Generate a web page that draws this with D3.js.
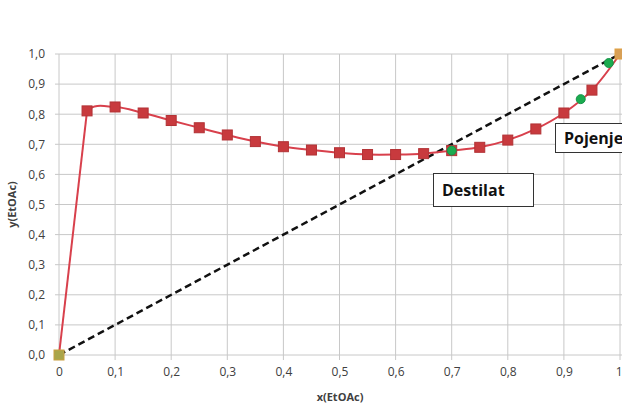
<!DOCTYPE html>
<html>
<head>
<meta charset="utf-8">
<script src="https://cdn.jsdelivr.net/npm/d3@7"></script>
<style>
  html, body { margin: 0; padding: 0; background: #fff; }
  svg text { font-family: "Open Sans", "Liberation Sans", sans-serif; }
</style>
</head>
<body>
<svg id="chart" width="622" height="405"></svg>
<script>
// Equilibrium curve (EtOAc), vapour vs liquid fraction
const eqX = [0, 0.05, 0.1, 0.15, 0.2, 0.25, 0.3, 0.35, 0.4, 0.45, 0.5, 0.55, 0.6, 0.65, 0.7, 0.75, 0.8, 0.85, 0.9, 0.95, 1.0];
const eqY = [0, 0.811, 0.824, 0.804, 0.779, 0.755, 0.731, 0.709, 0.692, 0.681, 0.672, 0.666, 0.666, 0.669, 0.679, 0.690, 0.714, 0.751, 0.804, 0.880, 1.0];

// Operating points (distillate / feed)
const ptX = [0.7, 0.93, 0.98];
const ptY = [0.679, 0.85, 0.97];

// End points of the diagonal
const endX = [0, 1];
const endY = [0, 1];

const xTicks = [0, 0.1, 0.2, 0.3, 0.4, 0.5, 0.6, 0.7, 0.8, 0.9, 1];
const yTicks = [0, 0.1, 0.2, 0.3, 0.4, 0.5, 0.6, 0.7, 0.8, 0.9, 1];

const labels = ["Destilat", "Pojenje"];

const W = 622;
const svg = d3.select("#chart");
const x = d3.scaleLinear().domain([0, 1]).range([59, 620]);
const y = d3.scaleLinear().domain([0, 1]).range([355, 54]);

const fmt = v => v === 0 || v === 1 ? d3.format("d")(v) : d3.format(".1f")(v).replace(".", ",");
const fmtY = v => d3.format(".1f")(v).replace(".", ",");

// gridlines
const grid = svg.append("g");
grid.selectAll("line.v").data(xTicks).join("line")
  .attr("x1", d => x(d)).attr("x2", d => x(d))
  .attr("y1", y(1)).attr("y2", y(0) + 5)
  .attr("stroke", "#c8c8c8").attr("stroke-width", 1);
grid.selectAll("line.h").data(yTicks).join("line")
  .attr("x1", x(0) - 4).attr("x2", W)
  .attr("y1", d => y(d)).attr("y2", d => y(d))
  .attr("stroke", "#c8c8c8").attr("stroke-width", 1);

// axes (labels only, lines drawn by grid)
const xAxis = d3.axisBottom(x).tickValues(xTicks).tickFormat(fmt).tickSize(0).tickPadding(12);
const gx = svg.append("g").attr("transform", `translate(0,${y(0)})`).call(xAxis);
gx.select(".domain").remove();
gx.selectAll("text").attr("font-size", 12).attr("fill", "#404040")
  .attr("text-anchor", d => d === 1 ? "end" : "middle")
  .attr("dx", d => d === 1 ? 2 : 0);

const yAxis = d3.axisLeft(y).tickValues(yTicks).tickFormat(fmtY).tickSize(0).tickPadding(14);
const gy = svg.append("g").attr("transform", `translate(${x(0)},0)`).call(yAxis);
gy.select(".domain").remove();
gy.selectAll("text").attr("font-size", 12).attr("fill", "#404040");

// axis titles
svg.append("text").attr("x", 340).attr("y", 401).attr("text-anchor", "middle")
  .attr("font-size", 11).attr("font-weight", "bold").attr("fill", "#404040").text("x(EtOAc)");
svg.append("text").attr("transform", `translate(16,${(y(0) + y(1)) / 2}) rotate(-90)`)
  .attr("text-anchor", "middle").attr("font-size", 11).attr("font-weight", "bold")
  .attr("fill", "#404040").text("y(EtOAc)");

// diagonal y = x
svg.append("line")
  .attr("x1", x(endX[0])).attr("y1", y(endY[0]))
  .attr("x2", x(endX[1])).attr("y2", y(endY[1]))
  .attr("stroke", "#111").attr("stroke-width", 2.5).attr("stroke-dasharray", "7,4");

// equilibrium curve: steep first rise drawn straight, remainder smoothed
const eqData = eqX.map((v, i) => [v, eqY[i]]);
const eqColor = "#d8404c";
svg.append("defs").append("clipPath").attr("id", "smooth-part")
  .append("rect").attr("x", x(eqX[1])).attr("y", 0)
  .attr("width", W - x(eqX[1])).attr("height", 405);

svg.append("path").datum(eqData.slice(0, 2))
  .attr("d", d3.line().x(d => x(d[0])).y(d => y(d[1])))
  .attr("fill", "none").attr("stroke", eqColor).attr("stroke-width", 2);

svg.append("path").datum(eqData)
  .attr("clip-path", "url(#smooth-part)")
  .attr("d", d3.line().x(d => x(d[0])).y(d => y(d[1])).curve(d3.curveCatmullRom.alpha(0.5)))
  .attr("fill", "none").attr("stroke", eqColor).attr("stroke-width", 2);

svg.selectAll("rect.eq").data(eqData.slice(1, -1)).join("rect")
  .attr("x", d => x(d[0]) - 5).attr("y", d => y(d[1]) - 5)
  .attr("width", 10).attr("height", 10)
  .attr("fill", "#c83a3e").attr("stroke", "#b23235").attr("stroke-width", 1);

// operating points
svg.selectAll("circle.pt").data(ptX.map((v, i) => [v, ptY[i]])).join("circle")
  .attr("cx", d => x(d[0])).attr("cy", d => y(d[1])).attr("r", 4.5)
  .attr("fill", "#1bab4f").attr("stroke", "#17944a").attr("stroke-width", 1);

// end markers
svg.selectAll("rect.end").data(endX.map((v, i) => [v, endY[i]])).join("rect")
  .attr("x", d => x(d[0]) - 5).attr("y", d => y(d[1]) - 5)
  .attr("width", 10).attr("height", 10)
  .attr("fill", (d, i) => i === 0 ? "#a9a54a" : "#d8a056")
  .attr("stroke", (d, i) => i === 0 ? "#c9a040" : "#e0a040").attr("stroke-width", 1);

// labels in boxes
const boxes = [
  { text: labels[0], x: 433, y: 173, w: 100, h: 33 },
  { text: labels[1], x: 555, y: 123, w: 90, h: 29 }
];
const lb = svg.selectAll("g.lbl").data(boxes).join("g");
lb.append("rect").attr("x", d => d.x + 0.5).attr("y", d => d.y + 0.5)
  .attr("width", d => d.w).attr("height", d => d.h)
  .attr("fill", "#fff").attr("stroke", "#333").attr("stroke-width", 1);
lb.append("text").attr("x", d => d.x + 9).attr("y", d => d.y + d.h / 2 + 6)
  .attr("font-size", 16).attr("font-weight", "bold").attr("fill", "#111")
  .text(d => d.text);
</script>
</body>
</html>
